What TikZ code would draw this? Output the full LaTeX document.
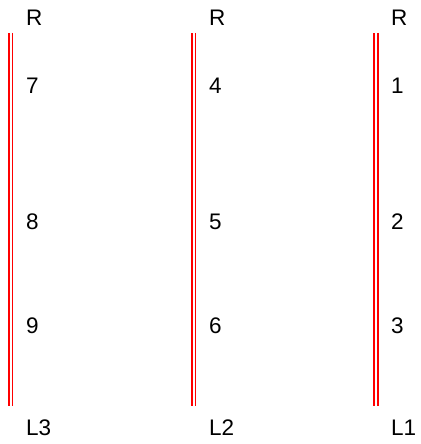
\documentclass[tikz,border=0pt]{standalone}
\usepackage{fontspec}
\setmainfont{Liberation Sans}
\begin{document}
\begin{tikzpicture}[x=1pt,y=-1pt,
  rail/.style={draw=red, line width=1.8pt, double=white, double distance=1.6pt},
  lbl/.style={anchor=west, inner sep=0pt, font=\fontsize{22.5}{22.5}\selectfont}]
\useasboundingbox[fill=white] (0,0) rectangle (420,444);
% rails
\coordinate (t3) at (10.8,33); \coordinate (b3) at (10.8,406);
\coordinate (t2) at (193.8,33); \coordinate (b2) at (193.8,406);
\coordinate (t1) at (376,33); \coordinate (b1) at (376,406);
\draw[rail] (t3) -- (b3);
\draw[rail] (t2) -- (b2);
\draw[rail] (t1) -- (b1);
% column 3
\node[lbl] (r3) at (26,18) {R};
\node[lbl] (n7) at (26,86) {7};
\node[lbl] (n8) at (26,222) {8};
\node[lbl] (n9) at (26,326) {9};
\node[lbl] (l3) at (26,428) {L3};
% column 2
\node[lbl] (r2) at (209,18) {R};
\node[lbl] (n4) at (209,86) {4};
\node[lbl] (n5) at (209,222) {5};
\node[lbl] (n6) at (209,326) {6};
\node[lbl] (l2) at (209,428) {L2};
% column 1
\node[lbl] (r1) at (391,18) {R};
\node[lbl] (n1) at (391,86) {1};
\node[lbl] (n2) at (391,222) {2};
\node[lbl] (n3) at (391,326) {3};
\node[lbl] (l1) at (391,428) {L1};
\end{tikzpicture}
\end{document}
